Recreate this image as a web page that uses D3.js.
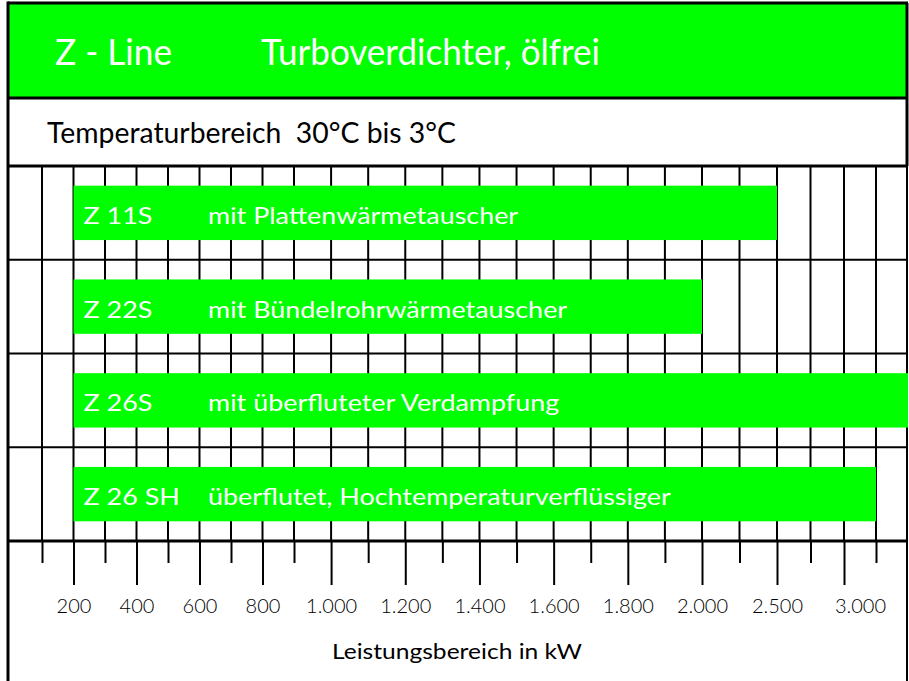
<!DOCTYPE html>
<html>
<head>
<meta charset="utf-8">
<script src="https://cdn.jsdelivr.net/npm/d3@7"></script>
<style>
  html, body { margin: 0; padding: 0; background: #fff; }
  svg { display: block; }
  text { font-family: Lato, "Open Sans", sans-serif; }
</style>
</head>
<body>
<div id="chart"></div>
<script>
// chart data
const titleLeft = "Z - Line";
const titleRight = "Turboverdichter, ölfrei";
const subtitle = "Temperaturbereich  30°C bis 3°C";
const axisTitle = "Leistungsbereich in kW";

const models = ["Z 11S", "Z 22S", "Z 26S", "Z 26 SH"];
const descriptions = [
  "mit Plattenwärmetauscher",
  "mit Bündelrohrwärmetauscher",
  "mit überfluteter Verdampfung",
  "überflutet, Hochtemperaturverflüssiger"
];
const rangeMin = [200, 200, 200, 200];
const rangeMax = [2500, 2000, 3500, 3250];

const majorTicks = [200, 400, 600, 800, 1000, 1200, 1400, 1600, 1800, 2000, 2500, 3000];
const minorTicks = [100, 300, 500, 700, 900, 1100, 1300, 1500, 1700, 1900, 2250, 2750, 3250];

const width = 909, height = 681;
const green = "#00ff00";
const frameL = 8, frameR = 907, frameT = 3;
const titleBottom = 98, gridTop = 166, gridBottom = 541;
const widen = 1.17; // the original face is wider than Lato

const de = d3.formatLocale({ decimal: ",", thousands: ".", grouping: [3], currency: ["", " €"] });
const fmt = de.format(",");

// the printed scale is not linear, so it is built piecewise
const x = d3.scaleLinear()
  .domain([100, 900, 2000, 2500, 3000, 3500])
  .range([42, 294, 702, 777, 844, 908]);

const y = d3.scaleBand()
  .domain(models)
  .range([gridTop, gridBottom])
  .padding(0);

const rows = models.map((m, i) => ({
  model: m, desc: descriptions[i], from: rangeMin[i], to: rangeMax[i]
}));

function stretch(sel, k) {
  sel.each(function () {
    const w = this.getComputedTextLength();
    d3.select(this).attr("textLength", w * k).attr("lengthAdjust", "spacingAndGlyphs");
  });
  return sel;
}

const svg = d3.select("#chart").append("svg")
  .attr("width", width)
  .attr("height", height);

svg.append("rect").attr("width", width).attr("height", height).attr("fill", "#fff");

// title band
svg.append("rect")
  .attr("x", frameL).attr("y", frameT)
  .attr("width", frameR - frameL).attr("height", titleBottom - frameT)
  .attr("fill", green);

svg.append("text")
  .attr("x", 55).attr("y", 65)
  .attr("fill", "#fff").attr("font-size", 36)
  .attr("textLength", 117).attr("lengthAdjust", "spacingAndGlyphs")
  .text(titleLeft);

svg.append("text")
  .attr("x", 261).attr("y", 65)
  .attr("fill", "#fff").attr("font-size", 36)
  .attr("textLength", 339).attr("lengthAdjust", "spacingAndGlyphs")
  .text(titleRight);

svg.append("text")
  .attr("x", 47).attr("y", 142.5)
  .attr("fill", "#000").attr("font-size", 28)
  .attr("textLength", 409).attr("lengthAdjust", "spacingAndGlyphs")
  .style("white-space", "pre")
  .text(subtitle);

// vertical grid
const allTicks = majorTicks.concat(minorTicks).sort(d3.ascending);
svg.append("g")
  .selectAll("line")
  .data(allTicks)
  .join("line")
  .attr("x1", d => x(d)).attr("x2", d => x(d))
  .attr("y1", gridTop).attr("y2", gridBottom)
  .attr("stroke", "#000").attr("stroke-width", 2);

// row separators
svg.append("g")
  .selectAll("line")
  .data(models.slice(1))
  .join("line")
  .attr("x1", frameL).attr("x2", frameR)
  .attr("y1", d => y(d)).attr("y2", d => y(d))
  .attr("stroke", "#000").attr("stroke-width", 2);

// frame and section lines
const frame = svg.append("g").attr("stroke", "#000");
frame.append("line").attr("x1", frameL).attr("x2", frameL).attr("y1", 1.5).attr("y2", height).attr("stroke-width", 3);
frame.append("line").attr("x1", frameL).attr("x2", frameR + 1).attr("y1", frameT).attr("y2", frameT).attr("stroke-width", 3);
frame.append("line").attr("x1", frameR).attr("x2", frameR).attr("y1", frameT).attr("y2", gridTop).attr("stroke-width", 3);
frame.append("line").attr("x1", frameR).attr("x2", frameR).attr("y1", gridTop).attr("y2", height).attr("stroke-width", 2);
frame.append("line").attr("x1", frameL).attr("x2", frameR + 1).attr("y1", titleBottom).attr("y2", titleBottom).attr("stroke-width", 3);
frame.append("line").attr("x1", frameL).attr("x2", frameR + 1).attr("y1", gridTop).attr("y2", gridTop).attr("stroke-width", 3);

// bars
const barH = y.bandwidth() * 0.58;
const bars = svg.append("g")
  .selectAll("g")
  .data(rows)
  .join("g");

bars.append("rect")
  .attr("x", d => x(d.from))
  .attr("y", d => y(d.model) + (y.bandwidth() - barH) / 2)
  .attr("width", d => x(d.to) - x(d.from))
  .attr("height", barH)
  .attr("fill", green);

const modelText = bars.append("text")
  .attr("x", d => x(d.from) + 10)
  .attr("y", d => y(d.model) + y.bandwidth() / 2 + 11)
  .attr("fill", "#fff").attr("font-size", 23)
  .text(d => d.model)
  .call(stretch, widen);

// description starts at a fixed column unless the model name is too long
bars.append("text")
  .attr("x", function (d, i) {
    const m = modelText.nodes()[i];
    return Math.max(208, x(d.from) + 10 + m.getComputedTextLength() + 22);
  })
  .attr("y", d => y(d.model) + y.bandwidth() / 2 + 11)
  .attr("fill", "#fff").attr("font-size", 23)
  .text(d => d.desc)
  .call(stretch, widen);

// axis
svg.append("line")
  .attr("x1", frameL).attr("x2", frameR + 1)
  .attr("y1", gridBottom).attr("y2", gridBottom)
  .attr("stroke", "#000").attr("stroke-width", 3);

const minorAxis = svg.append("g")
  .attr("transform", `translate(0,${gridBottom})`)
  .call(d3.axisBottom(x).tickValues(minorTicks).tickSize(22).tickFormat(""));

const majorAxis = svg.append("g")
  .attr("transform", `translate(0,${gridBottom})`)
  .call(d3.axisBottom(x).tickValues(majorTicks).tickSize(44).tickPadding(14).tickFormat(fmt));

[minorAxis, majorAxis].forEach(a => {
  a.select(".domain").remove();
  a.selectAll(".tick line").attr("stroke", "#000").attr("stroke-width", 2);
});

majorAxis.selectAll(".tick text")
  .attr("font-family", "'Open Sans', Lato, sans-serif")
  .attr("font-weight", 300)
  .attr("font-size", 20)
  .attr("fill", "#000")
  .filter(d => d === 3000)
  .attr("dx", 16);

svg.append("text")
  .attr("x", 457).attr("y", 658.5)
  .attr("text-anchor", "middle")
  .attr("fill", "#000").attr("font-size", 21)
  .text(axisTitle)
  .call(stretch, widen);
</script>
</body>
</html>
